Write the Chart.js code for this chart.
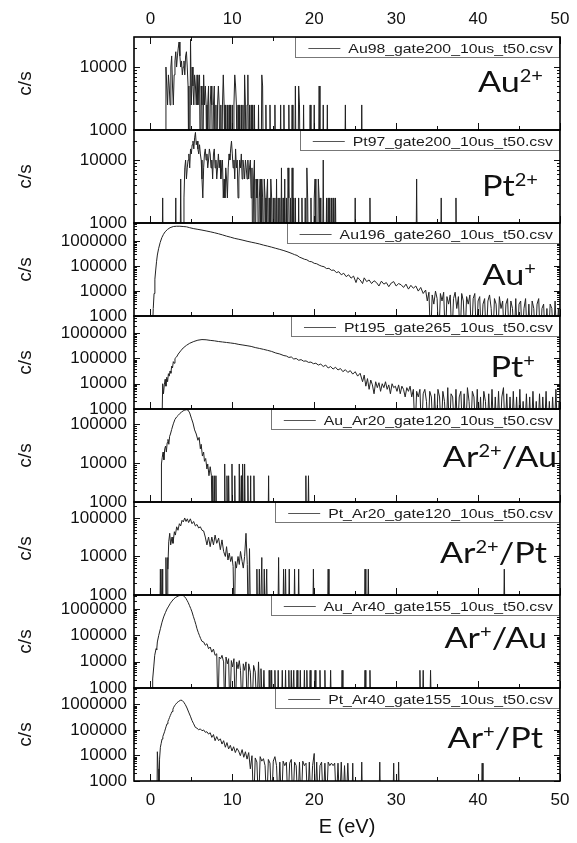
<!DOCTYPE html>
<html>
<head>
<meta charset="utf-8">
<script src="https://cdn.jsdelivr.net/npm/chart.js@4.4.1/dist/chart.umd.min.js"></script>
<style>
  html, body { margin: 0; padding: 0; background: #fff; }
</style>
</head>
<body>
<canvas id="myChart" width="577" height="843"></canvas>
<script>
const FONT = "'Liberation Sans', Arial, sans-serif";
const ION_FONT = "Lato, 'Open Sans', sans-serif";

// [E (eV), c/s], 0 = no counts
const au2 = [[1.8,0],[1.9,10000],[2.0,5000],[2.1,2500],[2.2,7500],[2.3,5000],[2.4,2500],[2.5,10000],[2.6,15000],[2.7,5000],[2.8,2500],[2.9,7500],[3.0,12500],[3.1,17500],[3.2,10000],[3.3,15000],[3.4,20000],[3.5,25000],[3.6,15000],[3.7,10000],[3.8,12500],[3.9,7500],[4.0,10000],[4.1,12500],[4.2,7500],[4.3,15000],[4.4,17500],[4.5,10000],[4.6,5000],[4.7,0],[4.8,0],[4.9,27500],[5.0,2500],[5.1,10000],[5.2,5000],[5.3,2500],[5.4,7500],[5.5,5000],[5.6,2500],[5.7,7500],[5.8,2500],[5.9,5000],[6.0,7500],[6.1,0],[6.2,5000],[6.3,2500],[6.4,0],[6.5,7500],[6.6,2500],[6.7,5000],[6.8,2500],[6.9,0],[7.0,2500],[7.1,5000],[7.2,0],[7.3,2500],[7.4,5000],[7.5,2500],[7.6,0],[7.7,2500],[7.8,5000],[7.9,0],[8.0,2500],[8.1,0],[8.2,2500],[8.3,5000],[8.4,2500],[8.5,0],[8.6,2500],[8.7,0],[8.8,2500],[8.9,7500],[9.0,2500],[9.1,0],[9.2,2500],[9.3,0],[9.4,2500],[9.5,0],[9.6,2500],[9.7,0],[9.8,2500],[9.9,0],[10.0,2500],[10.1,0],[10.2,2500],[10.3,7500],[10.4,5000],[10.5,2500],[10.6,0],[10.7,2500],[10.8,0],[10.9,2500],[11.0,0],[11.1,2500],[11.2,0],[11.3,2500],[11.4,0],[11.5,7500],[11.6,2500],[11.7,0],[11.8,2500],[11.9,7500],[12.0,0],[12.1,2500],[12.2,0],[12.3,2500],[12.4,0],[12.5,2500],[12.6,0],[12.7,2500],[12.8,0],[13.1,0],[13.2,2500],[13.3,0],[13.5,0],[13.6,7500],[13.7,5000],[13.8,0],[14.0,0],[14.1,2500],[14.2,0],[14.5,0],[14.6,2500],[14.7,0],[15.1,0],[15.2,2500],[15.3,0],[15.8,0],[15.9,2500],[16.0,0],[16.2,0],[16.3,2500],[16.4,0],[16.8,0],[16.9,2500],[17.0,0],[17.2,0],[17.3,2500],[17.4,0],[17.6,0],[17.7,5000],[17.8,0],[18.0,0],[18.1,5000],[18.2,2500],[18.3,0],[18.6,0],[18.7,2500],[18.8,0],[19.4,0],[19.5,2500],[19.6,0],[19.9,0],[20.0,2500],[20.1,0],[20.5,0],[20.6,5000],[20.7,0],[21.0,0],[21.1,2500],[21.2,0],[21.5,0],[21.6,2500],[21.7,0],[23.7,0],[23.8,2500],[23.9,0],[25.7,0],[25.8,2500],[25.9,0]];

const pt2 = [[1.4,0],[1.5,2500],[1.6,0],[3.0,0],[3.1,2500],[3.2,0],[3.6,0],[3.7,5000],[3.8,0],[4.0,0],[4.1,2500],[4.2,7500],[4.3,10000],[4.4,5000],[4.5,7500],[4.6,10000],[4.7,12500],[4.8,7500],[4.9,15000],[5.0,12500],[5.1,17500],[5.2,20000],[5.3,15000],[5.4,22500],[5.5,27500],[5.6,17500],[5.7,20000],[5.8,15000],[5.9,12500],[6.0,17500],[6.1,12500],[6.2,10000],[6.3,5000],[6.4,2500],[6.5,7500],[6.6,12500],[6.7,15000],[6.8,10000],[6.9,12500],[7.0,7500],[7.1,10000],[7.2,15000],[7.3,12500],[7.4,7500],[7.5,10000],[7.6,5000],[7.7,12500],[7.8,15000],[7.9,7500],[8.0,10000],[8.1,5000],[8.2,7500],[8.3,12500],[8.4,7500],[8.5,10000],[8.6,5000],[8.7,7500],[8.8,10000],[8.9,2500],[9.0,5000],[9.1,2500],[9.2,7500],[9.3,5000],[9.4,2500],[9.5,7500],[9.6,12500],[9.7,10000],[9.8,15000],[9.9,20000],[10.0,12500],[10.1,7500],[10.2,10000],[10.3,5000],[10.4,15000],[10.5,7500],[10.6,10000],[10.7,2500],[10.8,5000],[10.9,10000],[11.0,7500],[11.1,12500],[11.2,5000],[11.3,10000],[11.4,7500],[11.5,5000],[11.6,10000],[11.7,7500],[11.8,5000],[11.9,10000],[12.0,5000],[12.1,7500],[12.2,10000],[12.3,2500],[12.4,7500],[12.5,0],[12.6,5000],[12.7,10000],[12.8,0],[12.9,5000],[13.0,2500],[13.1,5000],[13.2,0],[13.3,2500],[13.4,5000],[13.5,0],[13.6,5000],[13.7,2500],[13.8,0],[13.9,5000],[14.0,2500],[14.1,0],[14.2,2500],[14.3,5000],[14.4,0],[14.5,2500],[14.6,0],[14.7,5000],[14.8,2500],[14.9,0],[15.0,2500],[15.1,0],[15.2,2500],[15.3,0],[15.4,5000],[15.5,0],[15.6,2500],[15.7,0],[15.8,2500],[15.9,0],[16.0,7500],[16.1,0],[16.2,2500],[16.3,0],[16.4,5000],[16.5,0],[16.6,2500],[16.7,0],[16.8,7500],[16.9,2500],[17.0,0],[17.1,2500],[17.2,0],[17.3,7500],[17.4,0],[17.5,2500],[17.6,0],[17.7,2500],[17.8,0],[18.0,0],[18.1,2500],[18.2,0],[18.4,0],[18.5,2500],[18.6,0],[18.8,0],[18.9,2500],[19.0,0],[19.1,7500],[19.2,2500],[19.3,0],[19.5,0],[19.6,2500],[19.7,0],[19.9,0],[20.0,2500],[20.1,5000],[20.2,0],[20.4,0],[20.5,5000],[20.6,2500],[20.7,0],[20.8,2500],[20.9,0],[21.0,0],[21.1,10000],[21.2,0],[21.4,0],[21.5,2500],[21.6,0],[21.7,2500],[21.8,0],[21.9,2500],[22.0,0],[22.1,2500],[22.2,0],[22.3,2500],[22.4,0],[22.6,2500],[22.7,0],[24.9,0],[25.0,2500],[25.1,0],[26.7,0],[26.8,2500],[26.9,0],[32.4,0],[32.5,5000],[32.6,0],[35.4,0],[35.5,2500],[35.6,0],[37.2,0],[37.3,2500],[37.4,0]];

const auP = [[0.2,0],[0.35,2000],[0.45,8000],[0.55,30000],[0.65,70000],[0.75,150000],[0.85,280000],[1.0,500000],[1.2,900000],[1.4,1400000],[1.6,1900000],[1.8,2400000],[2.1,3000000],[2.4,3500000],[2.8,3900000],[3.2,4000000],[3.6,4000000],[4.0,3900000],[4.4,3800000],[4.8,3500000],[5.3,3200000],[5.8,3000000],[6.3,2800000],[6.8,2600000],[7.3,2400000],[7.8,2200000],[8.3,2000000],[8.8,1800000],[9.3,1600000],[9.8,1450000],[10.3,1300000],[10.8,1200000],[11.3,1100000],[11.8,1000000],[12.3,920000],[12.8,850000],[13.3,780000],[13.8,700000],[14.3,640000],[14.8,580000],[15.3,520000],[15.8,470000],[16.3,420000],[16.8,370000],[17.3,320000],[17.6,290000],[17.9,270000],[18.2,230000],[18.5,210000],[18.8,190000],[19.1,180000],[19.4,155000],[19.7,150000],[20.0,130000],[20.3,125000],[20.6,110000],[20.9,100000],[21.2,95000],[21.5,80000],[21.8,82000],[22.1,68000],[22.4,70000],[22.7,55000],[23.0,60000],[23.3,45000],[23.6,52000],[23.9,38000],[24.2,45000],[24.5,33000],[24.8,40000],[25.1,22000],[25.3,35000],[25.6,28000],[25.9,20000],[26.1,34000],[26.4,24000],[26.7,28000],[27.0,20000],[27.3,26000],[27.6,22000],[27.9,16000],[28.2,25000],[28.5,19000],[28.8,22000],[29.1,15000],[29.4,21000],[29.7,24000],[30.0,16000],[30.3,20000],[30.6,18000],[30.9,14000],[31.2,19000],[31.5,12000],[31.8,17000],[32.1,13000],[32.4,16000],[32.7,10000],[33.0,14000],[33.3,8000],[33.6,11000],[33.8,4000],[34.0,9000],[34.2,0],[34.4,7000],[34.6,3000],[34.8,10000],[35.0,5000],[35.2,0],[35.4,8000],[35.6,4000],[35.8,9000],[36.0,0],[36.2,6000],[36.4,3000],[36.6,7000],[36.8,0],[37.0,5000],[37.2,9000],[37.4,2000],[37.6,6000],[37.8,0],[38.0,8000],[38.2,4000],[38.4,0],[38.6,6000],[38.8,3000],[39.0,7000],[39.2,0],[39.4,5000],[39.6,8000],[39.8,0],[40.0,4000],[40.2,6000],[40.4,0],[40.6,3000],[40.8,5000],[41.0,0],[41.2,4000],[41.4,7000],[41.6,2000],[41.8,0],[42.0,5000],[42.2,3000],[42.4,0],[42.6,6000],[42.8,2000],[43.0,4000],[43.2,0],[43.4,3000],[43.6,5000],[43.8,0],[44.0,4000],[44.2,2000],[44.4,0],[44.6,5000],[44.8,0],[45.0,3000],[45.2,4000],[45.4,0],[45.6,2000],[45.8,5000],[46.0,0],[46.2,3000],[46.4,0],[46.6,4000],[46.8,2000],[47.0,0],[47.2,3000],[47.4,5000],[47.6,0],[47.8,2000],[48.0,3000],[48.2,0],[48.4,2000],[48.6,0],[48.8,3000],[49.0,2000],[49.2,0],[49.4,4000],[49.6,0],[49.8,2000],[50,0]];

const ptP = [[1.4,0],[1.5,10000],[1.6,4000],[1.7,9000],[1.8,15000],[1.9,8000],[2.0,18000],[2.1,12000],[2.2,25000],[2.3,20000],[2.4,32000],[2.5,26000],[2.6,50000],[2.7,42000],[2.8,75000],[2.9,65000],[3.0,100000],[3.2,115000],[3.4,150000],[3.7,200000],[4.0,260000],[4.4,330000],[4.8,400000],[5.3,470000],[5.8,530000],[6.3,560000],[6.8,550000],[7.3,520000],[7.8,500000],[8.3,470000],[8.8,450000],[9.3,430000],[9.8,410000],[10.3,390000],[10.8,360000],[11.3,340000],[11.8,320000],[12.3,300000],[12.8,270000],[13.3,250000],[13.8,230000],[14.3,210000],[14.8,190000],[15.3,165000],[15.8,150000],[16.3,130000],[16.6,125000],[16.9,110000],[17.2,115000],[17.5,95000],[17.8,100000],[18.1,85000],[18.4,90000],[18.7,78000],[19.0,80000],[19.3,70000],[19.6,72000],[19.9,62000],[20.2,65000],[20.5,55000],[20.8,60000],[21.1,48000],[21.4,55000],[21.7,42000],[22.0,48000],[22.3,38000],[22.6,45000],[22.9,35000],[23.2,40000],[23.5,30000],[23.8,36000],[24.1,28000],[24.4,33000],[24.7,24000],[25.0,30000],[25.3,20000],[25.6,26000],[25.9,12000],[26.1,22000],[26.3,8000],[26.5,16000],[26.7,6000],[26.9,14000],[27.1,9000],[27.3,4000],[27.5,12000],[27.7,7000],[27.9,11000],[28.1,5000],[28.3,10000],[28.5,7000],[28.7,12000],[28.9,6000],[29.1,9000],[29.3,4000],[29.5,10000],[29.7,7000],[29.9,8000],[30.1,5000],[30.3,9000],[30.5,4000],[30.7,8000],[30.9,6000],[31.1,3000],[31.3,7000],[31.5,5000],[31.7,8000],[31.9,3000],[32.1,6000],[32.3,0],[32.5,5000],[32.7,3000],[32.9,6000],[33.1,0],[33.3,4000],[33.5,6000],[33.7,2000],[33.9,0],[34.1,5000],[34.3,3000],[34.5,0],[34.7,4000],[34.9,0],[35.1,6000],[35.3,3000],[35.5,0],[35.7,5000],[35.9,2000],[36.1,0],[36.3,7000],[36.5,0],[36.7,4000],[36.9,3000],[37.1,0],[37.3,6000],[37.5,0],[37.7,3000],[37.9,5000],[38.1,0],[38.3,4000],[38.5,0],[38.7,7000],[38.9,2000],[39.1,0],[39.3,5000],[39.5,3000],[39.7,0],[39.9,6000],[40.1,0],[40.3,3000],[40.5,0],[40.7,5000],[40.9,2000],[41.1,0],[41.3,4000],[41.5,0],[41.7,6000],[41.9,0],[42.1,3000],[42.3,0],[42.5,5000],[42.7,0],[42.9,3000],[43.1,7000],[43.3,0],[43.5,4000],[43.7,0],[43.9,3000],[44.1,0],[44.3,5000],[44.5,0],[44.7,3000],[44.9,0],[45.1,6000],[45.3,0],[45.5,2000],[45.7,0],[45.9,4000],[46.1,0],[46.3,3000],[46.5,0],[46.7,5000],[46.9,0],[47.1,2000],[47.3,0],[47.5,4000],[47.7,0],[47.9,3000],[48.1,0],[48.3,5000],[48.5,0],[48.7,2000],[48.9,0],[49.1,3000],[49.3,0],[49.5,6000],[49.7,0],[49.9,2000],[50,0]];

const ar2au = [[1.3,0],[1.35,9400],[1.45,14000],[1.55,19000],[1.65,12000],[1.75,23000],[1.85,27000],[1.95,19000],[2.05,33000],[2.15,40000],[2.25,30000],[2.35,48000],[2.45,55000],[2.6,72000],[2.8,100000],[3.0,130000],[3.2,150000],[3.4,165000],[3.6,185000],[3.8,200000],[4.0,215000],[4.2,225000],[4.4,230000],[4.6,225000],[4.8,190000],[5.0,140000],[5.2,105000],[5.4,70000],[5.6,55000],[5.8,38000],[5.95,45000],[6.1,23000],[6.2,30000],[6.35,15000],[6.5,19000],[6.6,11000],[6.75,13000],[6.9,7000],[7.0,9400],[7.15,4700],[7.3,8000],[7.45,4700],[7.55,0],[7.6,4700],[7.7,0],[7.8,4700],[7.9,0],[8.0,4700],[8.1,0],[9.0,0],[9.07,9400],[9.15,0],[9.3,0],[9.35,4700],[9.45,0],[9.5,0],[9.55,4700],[9.65,0],[9.9,0],[9.96,9400],[10.05,0],[10.25,0],[10.3,4700],[10.4,0],[10.8,0],[10.85,9400],[10.95,0],[11.05,0],[11.1,4700],[11.15,0],[11.2,0],[11.26,9400],[11.35,0],[11.45,0],[11.5,9400],[11.6,0],[11.85,0],[11.9,4700],[12.0,0],[12.15,0],[12.24,4700],[12.3,0],[12.55,0],[12.64,4700],[12.75,0],[14.35,0],[14.43,4700],[14.5,0],[18.9,0],[18.98,4700],[19.05,0],[19.2,0],[19.3,4700],[19.4,0]];

const ar2pt = [[1.15,0],[1.22,4700],[1.3,0],[1.35,0],[1.42,4700],[1.5,0],[1.8,0],[1.9,9400],[2.0,0],[2.05,0],[2.1,9400],[2.15,4700],[2.24,24000],[2.36,40000],[2.48,20000],[2.64,32000],[2.76,22000],[2.93,44000],[3.05,36000],[3.21,59000],[3.37,48000],[3.54,71000],[3.7,62000],[3.86,87000],[4.02,79000],[4.19,100000],[4.35,81000],[4.51,95000],[4.67,76000],[4.88,95000],[5.08,71000],[5.28,81000],[5.49,62000],[5.69,68000],[5.89,55000],[6.1,59000],[6.3,48000],[6.5,46000],[6.7,32000],[6.9,20000],[7.1,32000],[7.3,18000],[7.5,32000],[7.7,20000],[7.9,36000],[8.1,22000],[8.33,30000],[8.54,15000],[8.74,27000],[8.94,13500],[9.15,10000],[9.3,18000],[9.47,8100],[9.63,12300],[9.8,7400],[9.96,10000],[10.1,5500],[10.24,0],[10.37,7400],[10.5,5000],[10.7,10000],[10.85,6200],[11.0,13500],[11.2,7400],[11.34,5000],[11.5,10000],[11.67,40000],[11.83,6200],[11.95,0],[12.1,16000],[12.24,0],[12.9,0],[13.0,4700],[13.1,0],[13.2,0],[13.3,4700],[13.4,0],[13.5,0],[13.6,9400],[13.7,0],[13.8,0],[13.9,4700],[14.0,0],[14.1,0],[14.2,4700],[14.3,0],[15.55,0],[15.65,9400],[15.75,0],[16.15,0],[16.26,4700],[16.35,0],[16.4,0],[16.5,4700],[16.6,0],[16.85,0],[16.95,4700],[17.05,0],[17.5,0],[17.6,4700],[17.7,0],[18.0,0],[18.1,4700],[18.2,0],[19.8,0],[19.9,4700],[20.0,0],[21.6,0],[21.7,4700],[21.8,0],[26.1,0],[26.2,4700],[26.3,0],[26.5,0],[26.6,4700],[26.7,0],[43.1,0],[43.2,4700],[43.3,0]];

const ar1au = [[0.2,0],[0.28,2200],[0.41,6300],[0.53,17400],[0.69,31000],[0.77,28000],[0.85,56000],[1.02,100000],[1.22,178000],[1.42,316000],[1.62,500000],[1.83,724000],[2.03,1000000],[2.24,1290000],[2.44,1650000],[2.64,2000000],[2.85,2400000],[3.05,2700000],[3.25,2950000],[3.46,3160000],[3.66,3300000],[3.86,3300000],[4.05,3150000],[4.19,2900000],[4.33,2550000],[4.47,2140000],[4.62,1750000],[4.76,1380000],[4.92,1050000],[5.08,776000],[5.24,530000],[5.4,372000],[5.55,260000],[5.69,178000],[5.84,130000],[5.98,100000],[6.14,75000],[6.3,59000],[6.5,56000],[6.7,42000],[6.9,48000],[7.1,31000],[7.3,36000],[7.5,23000],[7.7,30000],[7.9,17400],[8.1,20000],[8.25,0],[8.4,15000],[8.58,13000],[8.74,17400],[8.94,9800],[9.07,0],[9.23,15000],[9.4,8300],[9.55,13000],[9.7,0],[9.88,11000],[10.04,6300],[10.2,13000],[10.37,0],[10.53,9800],[10.7,5400],[10.85,11000],[11.0,4700],[11.2,0],[11.34,8300],[11.5,4700],[11.67,9800],[11.83,0],[12.0,8300],[12.2,4000],[12.4,0],[12.6,7200],[12.8,4000],[13.0,0],[13.2,9800],[13.4,0],[13.5,5400],[13.7,0],[13.86,4700],[14.0,0],[14.45,0],[14.5,4700],[14.6,0],[14.7,0],[14.8,4700],[14.9,0],[15.1,0],[15.2,4700],[15.3,0],[15.5,0],[15.6,4700],[15.7,0],[16.0,0],[16.1,4700],[16.2,0],[16.4,0],[16.5,4700],[16.6,0],[16.8,0],[16.9,4700],[17.0,0],[17.1,0],[17.2,4700],[17.3,0],[17.4,0],[17.5,4700],[17.6,0],[17.8,0],[17.9,4700],[18.0,0],[18.2,0],[18.3,4700],[18.4,0],[18.7,0],[18.8,4700],[18.9,0],[19.0,0],[19.1,4700],[19.2,0],[19.4,0],[19.5,4700],[19.6,0],[20.0,0],[20.1,4700],[20.2,0],[20.6,0],[20.7,4700],[20.8,0],[21.2,0],[21.3,4700],[21.4,0],[21.9,0],[22.0,4700],[22.1,0],[23.3,0],[23.4,4700],[23.5,0],[26.1,0],[26.2,4700],[26.3,0],[26.7,0],[26.8,4700],[26.9,0],[32.8,0],[32.9,4700],[33.0,0],[33.2,0],[33.3,4700],[33.4,0],[34.1,0],[34.2,4700],[34.3,0]];

const ar1pt = [[0.8,0],[0.85,14000],[0.95,3000],[1.05,0],[1.12,7200],[1.22,21000],[1.32,30000],[1.42,44000],[1.52,55000],[1.63,69000],[1.73,85000],[1.83,110000],[1.93,140000],[2.03,174000],[2.14,215000],[2.24,257000],[2.34,310000],[2.44,372000],[2.54,440000],[2.64,525000],[2.75,650000],[2.85,776000],[2.95,880000],[3.05,977000],[3.25,1170000],[3.46,1320000],[3.66,1450000],[3.86,1450000],[4.07,1230000],[4.27,977000],[4.47,724000],[4.67,500000],[4.88,347000],[5.08,234000],[5.28,174000],[5.49,126000],[5.69,117000],[5.89,102000],[6.1,110000],[6.3,93000],[6.5,100000],[6.7,81000],[6.9,85000],[7.1,69000],[7.3,78000],[7.5,51000],[7.7,66000],[7.9,38000],[8.1,55000],[8.33,38000],[8.54,45000],[8.74,28000],[8.94,38000],[9.15,21000],[9.35,32000],[9.55,18000],[9.76,25000],[9.96,15000],[10.16,22000],[10.37,13000],[10.57,19000],[10.77,15000],[10.98,9800],[11.2,17000],[11.4,8500],[11.6,14000],[11.8,7200],[12.0,13000],[12.2,3000],[12.4,9800],[12.6,0],[12.8,8000],[13.0,5500],[13.2,0],[13.4,9000],[13.6,6000],[13.8,7500],[14.0,4000],[14.2,0],[14.4,7000],[14.6,5000],[14.8,0],[15.0,6000],[15.2,9000],[15.4,4000],[15.6,0],[15.8,5500],[16.0,0],[16.2,6000],[16.4,4000],[16.6,5500],[16.8,0],[17.0,5000],[17.2,7000],[17.4,0],[17.6,5500],[17.8,4000],[18.0,0],[18.2,5500],[18.4,0],[18.6,6000],[18.8,4000],[19.0,5000],[19.2,0],[19.4,5500],[19.6,0],[19.8,4000],[20.0,12000],[20.1,0],[20.3,5500],[20.5,0],[20.7,4000],[20.9,5500],[21.1,0],[21.3,5000],[21.5,0],[21.7,5500],[21.9,4000],[22.1,5000],[22.3,4000],[22.5,5000],[22.7,0],[22.9,5000],[23.1,0],[23.3,5500],[23.5,0],[23.7,4000],[23.9,0],[24.1,5000],[24.3,0],[24.6,0],[24.7,5000],[24.8,0],[25.7,0],[25.8,5500],[25.9,0],[27.9,0],[28.0,5500],[28.1,0],[29.6,0],[29.7,5000],[29.8,0],[30.2,0],[30.3,5500],[30.4,0],[40.4,0],[40.5,5000],[40.6,0]];

const spectra = [au2, pt2, auP, ptP, ar2au, ar2pt, ar1au, ar1pt];
const yMax = [30000, 30000, 5400000, 4800000, 240000, 260000, 3400000, 4400000];
const fileNames = ['Au98_gate200_10us_t50.csv', 'Pt97_gate200_10us_t50.csv', 'Au196_gate260_10us_t50.csv', 'Pt195_gate265_10us_t50.csv',
  'Au_Ar20_gate120_10us_t50.csv', 'Pt_Ar20_gate120_10us_t50.csv', 'Au_Ar40_gate155_10us_t50.csv', 'Pt_Ar40_gate155_10us_t50.csv'];
// [text, superscript?]
const ionLabels = [
  [['Au', 0], ['2+', 1]], [['Pt', 0], ['2+', 1]], [['Au', 0], ['+', 1]], [['Pt', 0], ['+', 1]],
  [['Ar', 0], ['2+', 1], ['/Au', 0]], [['Ar', 0], ['2+', 1], ['/Pt', 0]],
  [['Ar', 0], ['+', 1], ['/Au', 0]], [['Ar', 0], ['+', 1], ['/Pt', 0]]
];
const xTicks = [0, 10, 20, 30, 40, 50];
const xMinorTicks = [5, 15, 25, 35, 45];

// a zero count has no place on a log axis: it is drawn below the panel floor
const ZERO_CPS = 100;

// label placement (baseline below panel top, right edge)
const labelDy = [55, 66, 62, 61, 58, 61, 53, 60];
const labelRight = [543, 538, 536, 535, 557, 547, 547, 543];

function isDecade(v) {
  const l = Math.log10(v);
  return Math.abs(l - Math.round(l)) < 1e-6;
}

function line(ctx, x1, y1, x2, y2) {
  ctx.beginPath();
  ctx.moveTo(x1, y1);
  ctx.lineTo(x2, y2);
  ctx.stroke();
}

const panelPlugin = {
  id: 'panels',
  beforeDatasetDraw(chart, args) {
    const ys = chart.scales[args.meta.yAxisID];
    const a = chart.chartArea;
    chart.ctx.save();
    chart.ctx.beginPath();
    chart.ctx.rect(a.left, ys.top, a.right - a.left, ys.bottom - ys.top);
    chart.ctx.clip();
  },
  afterDatasetDraw(chart) {
    chart.ctx.restore();
  },
  afterDraw(chart) {
    const ctx = chart.ctx;
    const a = chart.chartArea;
    const xs = chart.scales.x;
    ctx.save();
    ctx.strokeStyle = '#111';
    ctx.lineWidth = 1;
    spectra.forEach((d, i) => {
      const ys = chart.scales['y' + i];
      for (let e = 3; e <= 7; e++) {
        for (let m = 1; m <= 9; m++) {
          const v = m * Math.pow(10, e);
          if (v > ys.max) break;
          const py = Math.round(ys.getPixelForValue(v)) + 0.5;
          if (py < ys.top + 1.5) continue;
          const len = m === 1 ? 6 : 3;
          line(ctx, a.left, py, a.left + len, py);
          line(ctx, a.right - len, py, a.right, py);
        }
      }
      xTicks.concat(xMinorTicks).forEach(e => {
        const px = Math.round(xs.getPixelForValue(e)) + 0.5;
        const len = xTicks.includes(e) ? 7 : 4;
        line(ctx, px, ys.bottom, px, ys.bottom - len);
        if (i === 0) line(ctx, px, ys.top, px, ys.top + len);
      });
    });

    // legend boxes
    spectra.forEach((d, i) => {
      const ys = chart.scales['y' + i];
      ctx.font = '13.5px ' + FONT;
      const sx = 1.17;
      const tw = ctx.measureText(fileNames[i]).width * sx;
      const right = a.right - 1;
      const textLeft = right - 6 - tw;
      const boxLeft = Math.round(textLeft - 8 - 32 - 13);
      const top = ys.top;
      ctx.fillStyle = '#fff';
      ctx.fillRect(boxLeft, top, right - boxLeft, 20);
      ctx.strokeStyle = '#777';
      ctx.lineWidth = 1;
      ctx.strokeRect(boxLeft + 0.5, top + 0.5, right - boxLeft, 20);
      ctx.strokeStyle = '#555';
      line(ctx, textLeft - 40, top + 11.5, textLeft - 8, top + 11.5);
      ctx.save();
      ctx.translate(textLeft, top + 15.5);
      ctx.scale(sx, 1);
      ctx.fillStyle = '#1a1a1a';
      ctx.textBaseline = 'alphabetic';
      ctx.fillText(fileNames[i], 0, 0);
      ctx.restore();
    });

    // panel frames
    ctx.strokeStyle = '#000';
    ctx.lineWidth = 1.6;
    spectra.forEach((d, i) => {
      const ys = chart.scales['y' + i];
      ctx.strokeRect(a.left, ys.top, a.right - a.left, ys.bottom - ys.top);
    });

    // ion labels, drawn a little wide like the original
    const lsx = 1.18;
    ctx.fillStyle = '#111';
    ctx.textBaseline = 'alphabetic';
    spectra.forEach((d, i) => {
      const ys = chart.scales['y' + i];
      const parts = ionLabels[i];
      let total = 0;
      parts.forEach(p => {
        ctx.font = (p[1] ? '17px ' : '29px ') + ION_FONT;
        total += ctx.measureText(p[0]).width;
      });
      ctx.save();
      ctx.translate(labelRight[i] - total * lsx, ys.top + labelDy[i]);
      ctx.scale(lsx, 1);
      let x = 0;
      parts.forEach(p => {
        ctx.font = (p[1] ? '17px ' : '29px ') + ION_FONT;
        ctx.fillText(p[0], x, p[1] ? -10 : 0);
        x += ctx.measureText(p[0]).width;
      });
      ctx.restore();
    });
    ctx.restore();
  }
};

function noSidePadding(s) {
  s.paddingLeft = 0;
  s.paddingRight = 0;
}

const scales = {
  x: {
    type: 'linear', position: 'bottom', min: -2, max: 50,
    grid: {display: false, drawTicks: false}, border: {display: false},
    ticks: {stepSize: 10, includeBounds: false, padding: 9, color: '#111', font: {family: FONT, size: 17}},
    title: {display: true, text: 'E (eV)', color: '#111', font: {family: FONT, size: 20}, padding: {top: 14}},
    afterFit(s) { s.height = 62; noSidePadding(s); }
  },
  x2: {
    type: 'linear', position: 'top', min: -2, max: 50,
    grid: {display: false, drawTicks: false}, border: {display: false},
    ticks: {stepSize: 10, includeBounds: false, padding: 7, color: '#111', font: {family: FONT, size: 17}},
    afterFit(s) { s.height = 37; noSidePadding(s); }
  }
};

const datasets = [];
spectra.forEach((d, i) => {
  scales['y' + i] = {
    type: 'logarithmic', position: 'left', stack: 'panels', stackWeight: 1, weight: spectra.length - i,
    min: 1000, max: yMax[i],
    grid: {display: false, drawTicks: false}, border: {display: false},
    ticks: {
      autoSkip: false, padding: 7, color: '#111', font: {family: FONT, size: 17},
      callback: v => isDecade(v) ? String(v) : ''
    },
    title: {display: true, text: 'c/s', color: '#111', font: {family: FONT, size: 19}, padding: {top: 4, bottom: 0}},
    afterFit(s) { s.width = 124; }
  };
  datasets.push({
    label: fileNames[i],
    data: d.map(p => ({x: p[0], y: p[1] > 0 ? p[1] : ZERO_CPS})),
    xAxisID: 'x',
    yAxisID: 'y' + i,
    borderColor: '#222',
    borderWidth: 1,
    pointRadius: 0,
    tension: 0
  });
});

new Chart(document.getElementById('myChart'), {
  type: 'line',
  data: {datasets},
  options: {
    responsive: false,
    animation: false,
    devicePixelRatio: 1,
    layout: {padding: {left: 10, right: 17, top: 0, bottom: 0}},
    scales,
    plugins: {
      legend: {display: false},
      tooltip: {enabled: false}
    }
  },
  plugins: [panelPlugin]
});
</script>
</body>
</html>
